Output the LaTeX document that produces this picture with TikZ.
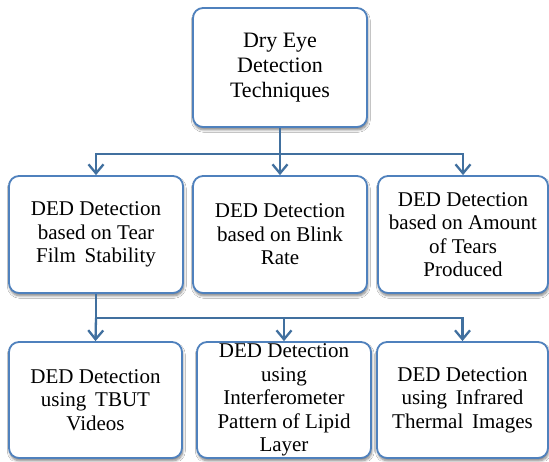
\documentclass[tikz,border=0pt]{standalone}
\usepackage{fontspec}
\setmainfont{Liberation Serif}
\usetikzlibrary{arrows.meta,shadows.blur}

\definecolor{boxline}{HTML}{4F81BD}
\definecolor{connline}{HTML}{41709F}

% a slightly widened word gap
\newcommand{\wgap}{\hspace{0.42em}}

\tikzset{
  box/.style={draw=boxline, line width=1.8pt, rounded corners=10pt, fill=white,
    inner sep=0pt, align=center,
    font=\fontsize{21}{23.5}\selectfont,
    blur shadow={shadow xshift=0.8pt, shadow yshift=-2.8pt, shadow blur steps=6,
      shadow blur radius=2.5pt, shadow opacity=50}},
  rootbox/.style={box, font=\fontsize{22}{25}\selectfont},
  conn/.style={draw=connline, line width=2.3pt},
  arr/.style={conn, -{Straight Barb[length=9pt,width=15pt,line width=2.3pt]}},
}

\begin{document}
\begin{tikzpicture}[x=1pt, y=-1pt]
  \useasboundingbox (0,0) rectangle (549,461);
  \fill[white] (0,0) rectangle (549,461);

  % root of the hierarchy
  \node[rootbox, minimum width=174pt, minimum height=119pt] (root) at (280,67.5)
    {Dry Eye\\Detection\\Techniques};

  % second level
  \node[box, minimum width=174pt, minimum height=117pt] (stab) at (96,234.5)
    {DED Detection\\based on Tear\\Film\wgap Stability};
  \node[box, minimum width=174pt, minimum height=117pt] (blink) at (280,234.5)
    {DED Detection\\based on Blink\\Rate};
  \node[box, minimum width=170pt, minimum height=117pt] (tears) at (463,234.5)
    {DED Detection\\based on Amount\\of Tears\\Produced};

  % third level
  \node[box, minimum width=173pt, minimum height=116pt] (tbut) at (95.5,400)
    {DED Detection\\using\wgap TBUT\\Videos};
  \node[box, minimum width=174pt, minimum height=116pt] (lipid) at (284,400)
    {DED Detection\\using\\Interferometer\\Pattern of Lipid\\Layer};
  \node[box, minimum width=171pt, minimum height=116pt] (thermal) at (462.5,400)
    {DED Detection\\using\wgap Infrared\\Thermal\wgap Images};

  % connectors: root to second level
  \coordinate (j1) at (280,154);
  \draw[conn] (root.south) -- (j1);
  \draw[arr] (j1) -| (stab.north);
  \draw[arr] (j1) -- (blink.north);
  \draw[arr] (j1) -| (tears.north);

  % connectors: tear film stability to third level
  \coordinate (j2) at (96,318);
  \draw[conn] (stab.south) -- (j2);
  \draw[arr] (j2) -- (tbut.north);
  \draw[arr] (j2) -| (lipid.north);
  \draw[arr] (j2) -| (thermal.north);
\end{tikzpicture}
\end{document}
